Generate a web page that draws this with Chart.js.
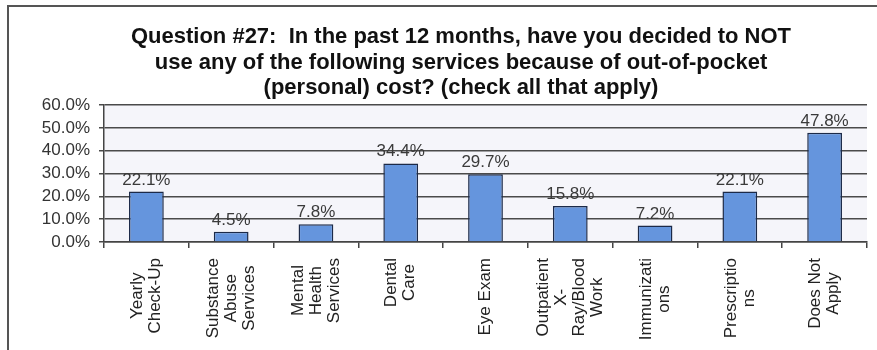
<!DOCTYPE html>
<html>
<head>
<meta charset="utf-8">
<script src="https://cdn.jsdelivr.net/npm/chart.js@4/dist/chart.umd.min.js"></script>
<style>
  html, body { margin: 0; padding: 0; background: #ffffff; }
  #wrap { position: relative; width: 877px; height: 350px; }
</style>
</head>
<body>
<div id="wrap"><canvas id="chart27"></canvas></div>
<script>
// categories, one array of lines per bar (as wrapped in the original)
var categoryLines = [
  ['Yearly', 'Check-Up'],
  ['Substance', 'Abuse', 'Services'],
  ['Mental', 'Health', 'Services'],
  ['Dental', 'Care'],
  ['Eye Exam'],
  ['Outpatient', 'X-', 'Ray/Blood', 'Work'],
  ['Immunizati', 'ons'],
  ['Prescriptio', 'ns'],
  ['Does Not', 'Apply']
];
var percentValues = [22.1, 4.5, 7.8, 34.4, 29.7, 15.8, 7.2, 22.1, 47.8];
var yTicks = [0, 10, 20, 30, 40, 50, 60];
var titleLines = [
  'Question #27:  In the past 12 months, have you decided to NOT',
  'use any of the following services because of out-of-pocket',
  '(personal) cost? (check all that apply)'
];

var labelFont = '17px "Liberation Sans", Arial, sans-serif';
var catFont = '17px "Liberation Sans", Arial, sans-serif';
var titleFont = 'bold 22px "Liberation Sans", Arial, sans-serif';

// frame, title and plot background
var backdrop = {
  id: 'backdrop',
  beforeDraw: function(chart) {
    var c = chart.ctx, a = chart.chartArea;
    c.save();
    c.fillStyle = '#f5f5fa';
    c.fillRect(a.left, a.top, a.right - a.left, a.bottom - a.top);
    c.strokeStyle = '#555555';
    c.lineWidth = 2;
    c.beginPath();
    c.moveTo(8, 400);
    c.lineTo(8, 6);
    c.lineTo(900, 6);
    c.stroke();

    c.font = titleFont;
    c.fillStyle = '#111111';
    c.textAlign = 'center';
    c.textBaseline = 'middle';
    titleLines.forEach(function(t, i) {
      c.fillText(t, 461, 37 + i * 25.5);
    });
    c.restore();
  }
};

// value labels above bars + centred rotated category labels
var barText = {
  id: 'barText',
  afterDatasetsDraw: function(chart) {
    var c = chart.ctx;
    var meta = chart.getDatasetMeta(0);
    var xs = chart.scales.x;
    c.save();
    c.font = labelFont;
    c.fillStyle = '#3a3a3a';
    c.textAlign = 'center';
    c.textBaseline = 'alphabetic';
    meta.data.forEach(function(bar, i) {
      c.fillText(percentValues[i].toFixed(1) + '%', bar.x, bar.y - 7);
    });

    c.font = catFont;
    c.fillStyle = '#222222';
    c.textBaseline = 'middle';
    var top = chart.chartArea.bottom + 16;
    var lineGap = 18;
    categoryLines.forEach(function(lines, i) {
      var cx = xs.getPixelForValue(i);
      var maxW = 0;
      lines.forEach(function(t) { maxW = Math.max(maxW, c.measureText(t).width); });
      lines.forEach(function(t, j) {
        var x = cx + (j - (lines.length - 1) / 2) * lineGap;
        c.save();
        c.translate(x, top + maxW / 2);
        c.rotate(-Math.PI / 2);
        c.fillText(t, 0, 0);
        c.restore();
      });
    });
    c.restore();
  }
};

var ctx27 = document.getElementById('chart27');

var chart27 = new Chart(ctx27, {
  type: 'bar',
  data: {
    labels: categoryLines.map(function(l) { return l.join(' '); }),
    datasets: [{
      data: percentValues,
      backgroundColor: '#6595dd',
      borderColor: '#1c2a48',
      borderWidth: 1.5,
      barPercentage: 0.41,
      categoryPercentage: 1
    }]
  },
  options: {
    responsive: true,
    maintainAspectRatio: false,
    animation: false,
    layout: { padding: { left: 0, right: 10, top: 105, bottom: 0 } },
    plugins: {
      legend: { display: false },
      tooltip: { enabled: false },
      title: { display: false }
    },
    scales: {
      x: {
        grid: {
          offset: true,
          drawOnChartArea: false,
          drawTicks: true,
          tickLength: 6,
          color: '#444444',
          lineWidth: 1.5
        },
        border: { display: true, color: '#444444', width: 1.5 },
        ticks: { display: false },
        afterFit: function(scale) { scale.height = 108; }
      },
      y: {
        min: 0,
        max: 60,
        afterBuildTicks: function(scale) {
          scale.ticks = yTicks.map(function(v) { return { value: v }; });
        },
        grid: {
          color: '#4a4a4a',
          lineWidth: 1.5,
          tickLength: 5
        },
        border: { display: true, color: '#444444', width: 1.5 },
        ticks: {
          autoSkip: false,
          padding: 9,
          color: '#333333',
          font: { family: '"Liberation Sans", Arial, sans-serif', size: 17 },
          callback: function(v) { return v.toFixed(1) + '%'; }
        },
        afterFit: function(scale) { scale.width = 104; }
      }
    }
  },
  plugins: [backdrop, barText]
});
</script>
</body>
</html>
